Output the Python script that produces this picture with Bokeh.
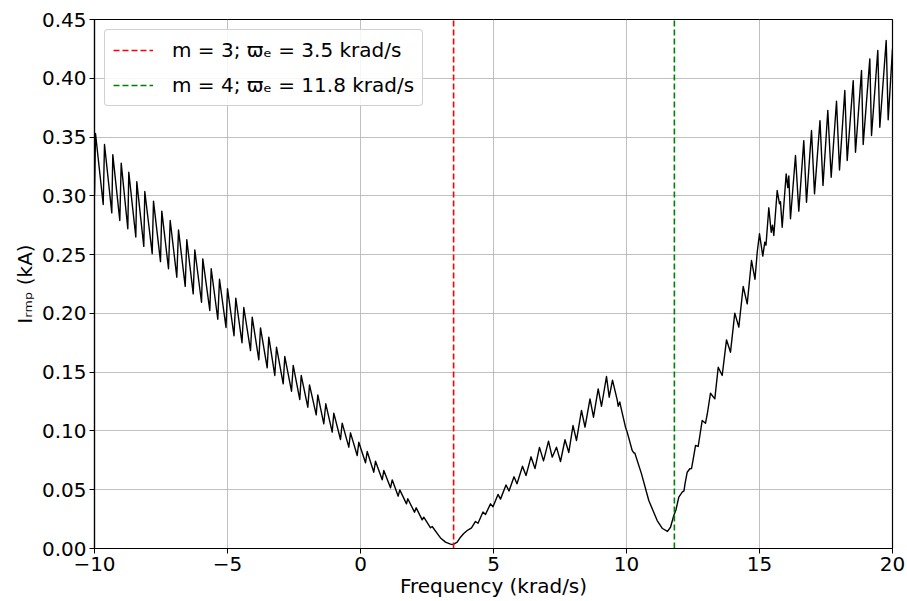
from bokeh.plotting import figure
from bokeh.models import Range1d, FixedTicker, NumeralTickFormatter, Legend, LegendItem
from bokeh.embed import file_html
from bokeh.resources import INLINE

# ---- data ----
freq_left = [-10.0, -9.962, -9.673, -9.624, -9.350, -9.312, -9.049, -8.996, -8.748, -8.711,
             -8.447, -8.410, -8.147, -8.109, -7.831, -7.782, -7.519, -7.470, -7.218, -7.154,
             -6.906, -6.842, -6.590, -6.530, -6.289, -6.229, -5.977, -5.929, -5.665, -5.613,
             -5.365, -5.301, -5.056, -5.0, -4.756, -4.688, -4.455, -4.387, -4.135, -4.071,
             -3.823, -3.759, -3.508, -3.447, -3.222, -3.158, -2.906, -2.846, -2.594, -2.530,
             -2.282, -2.229, -1.981, -1.917, -1.665, -1.605, -1.380, -1.305, -1.064, -1.004,
             -0.752, -0.688, -0.440, -0.376, -0.124, -0.064, 0.188, 0.252, 0.500, 0.564,
             0.816, 0.876, 1.128, 1.192, 1.417, 1.477, 1.729, 1.778, 2.030, 2.094,
             2.320, 2.380, 2.632, 2.695, 2.944, 3.008, 3.195, 3.383, 3.485]
irmp_left = [0.300, 0.353, 0.2926, 0.3437, 0.2855, 0.335, 0.279, 0.3278, 0.272, 0.320,
             0.265, 0.312, 0.257, 0.3037, 0.2507, 0.2955, 0.244, 0.287, 0.238, 0.279,
             0.2308, 0.271, 0.223, 0.2626, 0.2166, 0.254, 0.2095, 0.2464, 0.2025, 0.238,
             0.195, 0.229, 0.188, 0.221, 0.181, 0.213, 0.175, 0.205, 0.1684, 0.1968,
             0.1605, 0.1877, 0.1537, 0.1798, 0.1472, 0.1712, 0.1401, 0.1633, 0.1338, 0.1557,
             0.1267, 0.1472, 0.1202, 0.1392, 0.1137, 0.1307, 0.1061, 0.1231, 0.0990, 0.1151,
             0.0927, 0.1066, 0.0862, 0.0984, 0.0791, 0.0904, 0.0729, 0.0825, 0.0649, 0.0743,
             0.0584, 0.0663, 0.0516, 0.0584, 0.0445, 0.0499, 0.0380, 0.0423, 0.0309, 0.0346,
             0.0244, 0.0266, 0.0176, 0.0187, 0.011, 0.009, 0.0054, 0.0037, 0.0034]

freq_mid = [3.635, 3.759, 3.872, 4.011, 4.098, 4.173, 4.323, 4.417, 4.605, 4.699,
            4.887, 4.981, 5.169, 5.263, 5.470, 5.583, 5.771, 5.883, 6.090, 6.222,
            6.410, 6.560, 6.729, 6.880, 7.068, 7.207, 7.368, 7.519, 7.688, 7.831,
            7.989, 8.120, 8.308, 8.440, 8.628, 8.759, 8.936, 9.060, 9.248, 9.350, 9.474]
irmp_mid = [0.0054, 0.0096, 0.0125, 0.0153, 0.0165, 0.0175, 0.023, 0.0215, 0.031, 0.029,
            0.038, 0.0355, 0.046, 0.042, 0.054, 0.049, 0.061, 0.055, 0.070, 0.062,
            0.078, 0.068, 0.086, 0.0745, 0.0913, 0.0777, 0.0862, 0.074, 0.0925, 0.0817,
            0.1046, 0.0919, 0.1174, 0.1032, 0.1272, 0.1117, 0.1358, 0.121, 0.1463, 0.1287, 0.1432]

freq_right = [9.650, 9.688, 9.748, 9.812, 9.962, 10.026, 10.214, 10.274, 10.312, 10.564,
              10.838, 11.154, 11.353, 11.541, 11.654, 11.778, 11.861, 11.966, 12.094, 12.162,
              12.199, 12.282, 12.380, 12.444, 12.500, 12.594, 12.695, 12.744, 12.846, 12.970,
              13.034, 13.158, 13.320, 13.448, 13.598, 13.759, 13.910, 14.071, 14.222, 14.387,
              14.538, 14.699, 14.831, 14.914, 15.0, 15.124, 15.199, 15.244, 15.350, 15.440,
              15.489, 15.538, 15.665, 15.752, 15.789, 15.853, 16.003, 16.064, 16.102, 16.165,
              16.353, 16.477, 16.665, 16.767, 16.955, 17.068, 17.274, 17.387, 17.568, 17.695,
              17.895, 18.008, 18.207, 18.297, 18.523, 18.609, 18.835, 18.898, 19.147, 19.211,
              19.447, 19.523, 19.763, 19.838, 20.0]
irmp_right = [0.1265, 0.121, 0.1246, 0.118, 0.1032, 0.099, 0.0834, 0.0814, 0.0812, 0.0635,
              0.0408, 0.0238, 0.017, 0.0145, 0.0181, 0.0281, 0.033, 0.0437, 0.048, 0.049,
              0.055, 0.0649, 0.0678, 0.068, 0.075, 0.0876, 0.0868, 0.094, 0.1089, 0.1066,
              0.114, 0.1321, 0.1273, 0.1542, 0.1472, 0.1775, 0.167, 0.2002, 0.1883, 0.2229,
              0.2081, 0.245, 0.229, 0.252, 0.2677, 0.2487, 0.2606, 0.258, 0.2898, 0.269,
              0.275, 0.2663, 0.3045, 0.2932, 0.295, 0.2733, 0.3187, 0.307, 0.317, 0.2805,
              0.3343, 0.2870, 0.347, 0.2946, 0.3556, 0.3017, 0.364, 0.3088, 0.3726, 0.3158,
              0.3805, 0.322, 0.3896, 0.330, 0.398, 0.3371, 0.4066, 0.3437, 0.4165, 0.3513,
              0.4236, 0.3584, 0.4321, 0.3647, 0.425]

modes = [3, 4]
omega_e = [3.5, 11.8]          # krad/s
mode_colors = ["#ff0000", "#008000"]

x_ticks = [-10, -5, 0, 5, 10, 15, 20]
y_ticks = [0.0, 0.05, 0.10, 0.15, 0.20, 0.25, 0.30, 0.35, 0.40, 0.45]
X_MIN, X_MAX = -10, 20
Y_MIN, Y_MAX = 0.0, 0.45

freq = freq_left + freq_mid + freq_right
irmp = irmp_left + irmp_mid + irmp_right
assert len(freq) == len(irmp)

FONT = "DejaVu Sans"
FS = "20px"

p = figure(width=907, height=601, output_backend="svg", toolbar_location=None,
           x_range=Range1d(X_MIN, X_MAX), y_range=Range1d(Y_MIN, Y_MAX),
           min_border_left=94, min_border_right=15, min_border_top=19, min_border_bottom=53)
p.background_fill_color = "white"
p.border_fill_color = "white"
p.outline_line_color = "black"
p.outline_line_width = 1.2

p.line(freq, irmp, line_color="black", line_width=1.4, line_join="round")

items = []
for m, w, c in zip(modes, omega_e, mode_colors):
    r = p.line([w, w], [Y_MIN, Y_MAX], line_color=c, line_width=1.6, line_dash="6 3")
    items.append(LegendItem(label=f"m = {m}; ϖₑ = {w} krad/s", renderers=[r]))

legend = Legend(items=items, location="top_left", margin=10, padding=8, spacing=11,
                glyph_width=40, glyph_height=20, label_standoff=19,
                label_text_font=FONT, label_text_font_size=FS, label_text_color="black",
                border_line_color="#cccccc", border_line_alpha=0.9,
                background_fill_color="white", background_fill_alpha=0.85)
if "border_radius" in Legend.properties():
    legend.border_radius = 4
p.add_layout(legend, "center")

p.xaxis.ticker = FixedTicker(ticks=x_ticks)
p.yaxis.ticker = FixedTicker(ticks=y_ticks)
p.xaxis.major_label_overrides = {t: (f"\u2212{abs(t)}" if t < 0 else str(t)) for t in x_ticks}
p.yaxis.formatter = NumeralTickFormatter(format="0.00")
p.xaxis.axis_label = "Frequency (krad/s)"
p.yaxis.axis_label = "Iᵣₘₚ (kA)"

for ax in (p.xaxis, p.yaxis):
    ax.axis_line_color = "black"
    ax.axis_line_width = 1.2
    ax.major_tick_line_color = "black"
    ax.major_tick_out = 5
    ax.major_tick_in = 0
    ax.minor_tick_line_color = None
    ax.major_label_text_font = FONT
    ax.major_label_text_font_size = FS
    ax.major_label_text_color = "black"
    ax.axis_label_text_font = FONT
    ax.axis_label_text_font_size = FS
    ax.axis_label_text_font_style = "normal"
    ax.axis_label_text_color = "black"
    ax.major_label_standoff = 3
    ax.axis_label_standoff = 2
p.xaxis.axis_label_standoff = 0

for g in (p.xgrid, p.ygrid):
    g.grid_line_color = "#b0b0b0"
    g.grid_line_width = 0.8

open("out.html", "w").write(file_html(p, INLINE))
